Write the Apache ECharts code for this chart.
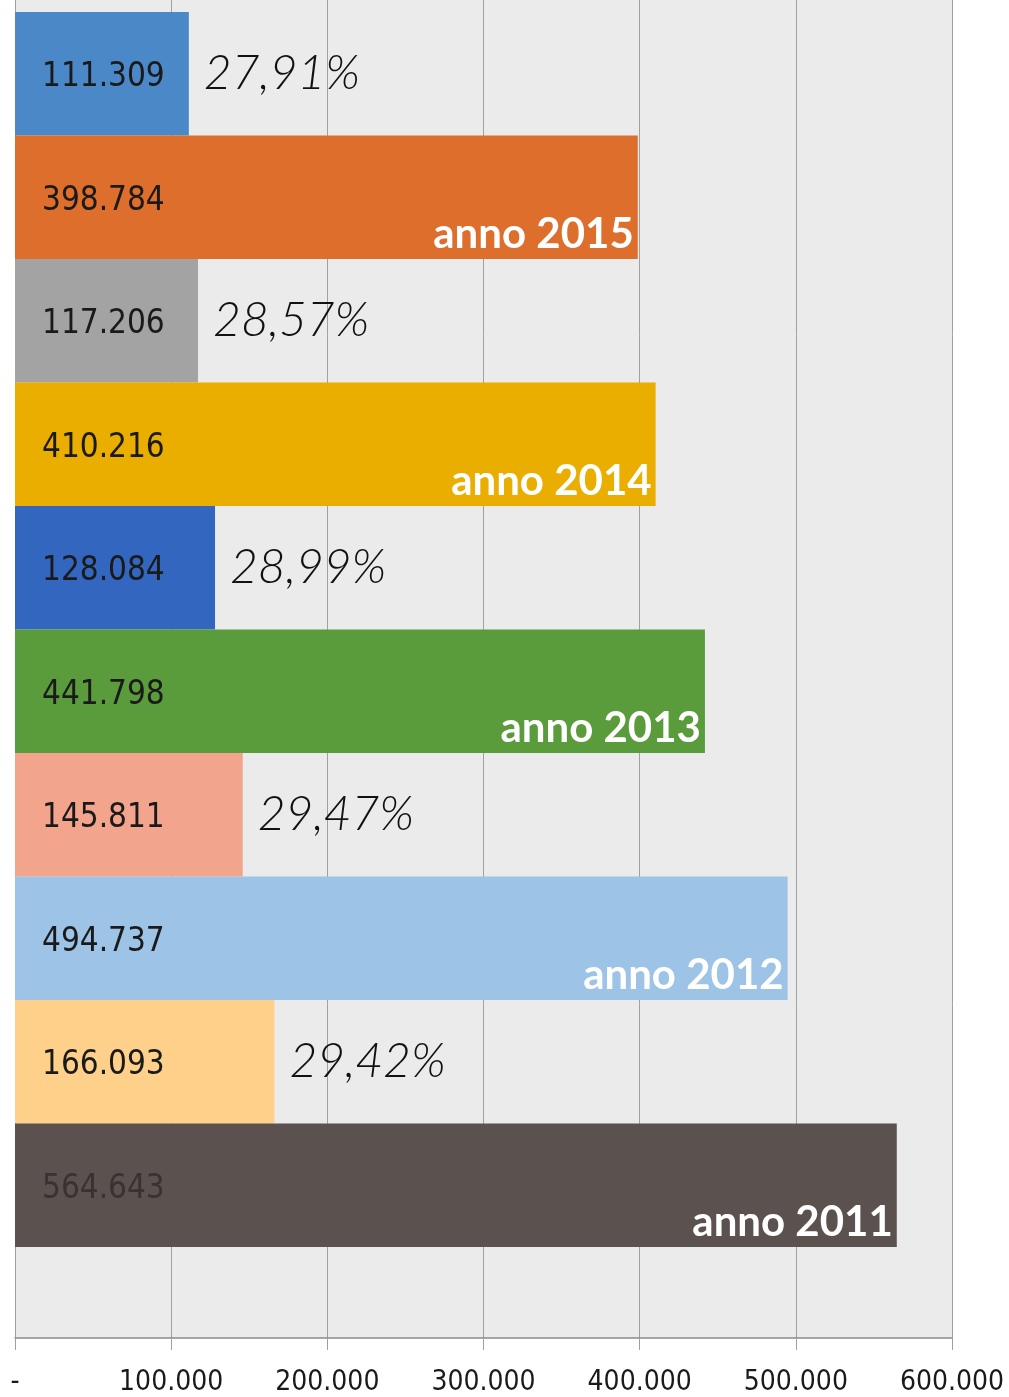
<!DOCTYPE html>
<html lang="it">
<head>
    <meta charset="utf-8">
    <title>Anni 2011-2015</title>
    <script src="https://cdn.jsdelivr.net/npm/echarts@6/dist/echarts.min.js"></script>
    <style>
        html, body { margin: 0; padding: 0; background: #fff; }
    </style>
</head>
<body>
    <div id="chart" style="width: 1009px; height: 1397px;"></div>
<script type="text/javascript">
    // dati, dall'alto verso il basso
    var categorie = ['2015 quota', '2015', '2014 quota', '2014', '2013 quota', '2013',
                     '2012 quota', '2012', '2011 quota', '2011'];
    var valori = [111309, 398784, 117206, 410216, 128084, 441798, 145811, 494737, 166093, 564643];
    var percentuali = ['27,91%', '', '28,57%', '', '28,99%', '', '29,47%', '', '29,42%', ''];
    var anni = ['', 'anno 2015', '', 'anno 2014', '', 'anno 2013', '', 'anno 2012', '', 'anno 2011'];
    var colori = ['#4a88c7', '#dd6e2b', '#a3a3a3', '#e9ae00', '#3366bf',
                  '#5a9b3c', '#f2a48c', '#9dc3e6', '#ffd08a', '#5b514f'];

    function migliaia(v) {
        return String(v).replace(/\B(?=(\d{3})+(?!\d))/g, '.');
    }

    var chart = echarts.init(document.getElementById('chart'));
    var numFont = '"DejaVu Sans Condensed", "DejaVu Sans", sans-serif';

    var option = {
        backgroundColor: '#ffffff',
        animation: false,
        grid: [
            // sfondo con griglia e asse
            { left: 15, right: 57, top: 0, bottom: 59, show: true, backgroundColor: '#ebebeb',
              borderWidth: 0, outerBoundsMode: 'none', containLabel: false },
            // area delle barre
            { left: 15, right: 57, top: 12, height: 1235, outerBoundsMode: 'none', containLabel: false }
        ],
        xAxis: [{
            gridIndex: 0, type: 'value', min: 0, max: 600000, interval: 100000,
            axisLine: { show: true, lineStyle: { color: '#8a8a8a', width: 1.5 } },
            axisTick: { show: true, length: 12, lineStyle: { color: '#a0a0a0' } },
            splitLine: { show: true, lineStyle: { color: '#a0a0a0', width: 1 } },
            axisLabel: {
                margin: 31, fontFamily: numFont, fontSize: 28, color: '#1a1a1a',
                formatter: function (v) { return v === 0 ? '-' : migliaia(v); }
            }
        }, {
            gridIndex: 1, type: 'value', min: 0, max: 600000, show: false
        }],
        yAxis: [{
            gridIndex: 0, type: 'value', min: 0, max: 1, show: false
        }, {
            gridIndex: 1, type: 'category', data: categorie, inverse: true, show: false
        }],
        series: [{
            type: 'scatter', xAxisIndex: 0, yAxisIndex: 0, data: [], silent: true
        }, {
            type: 'bar', xAxisIndex: 1, yAxisIndex: 1,
            barCategoryGap: 0, barGap: '-100%',
            data: valori.map(function (v, i) {
                return {
                    value: v,
                    itemStyle: { color: colori[i] },
                    label: { color: i === 9 ? '#3a3232' : '#1a1a1a' }
                };
            }),
            label: {
                show: true, position: 'insideLeft', distance: 27, offset: [0, 4],
                fontFamily: numFont, fontSize: 33,
                formatter: function (p) { return migliaia(p.value); }
            }
        }, {
            type: 'bar', xAxisIndex: 1, yAxisIndex: 1,
            barCategoryGap: 0, barGap: '-100%',
            itemStyle: { color: 'rgba(0,0,0,0)' },
            data: valori.map(function (v, i) {
                if (percentuali[i]) {
                    return {
                        value: v,
                        label: {
                            show: true, position: 'right', distance: 15,
                            formatter: percentuali[i],
                            fontFamily: 'Lato, "DejaVu Sans", sans-serif',
                            fontStyle: 'italic', fontWeight: 300, fontSize: 48, color: '#111111'
                        }
                    };
                }
                return {
                    value: v,
                    label: {
                        show: true, position: 'insideBottomRight', distance: 4,
                        formatter: anni[i],
                        fontFamily: 'Lato, "DejaVu Sans", sans-serif',
                        fontWeight: 'bold', fontSize: 42, color: '#ffffff'
                    }
                };
            })
        }]
    };
    chart.setOption(option);
</script>
</body>
</html>
